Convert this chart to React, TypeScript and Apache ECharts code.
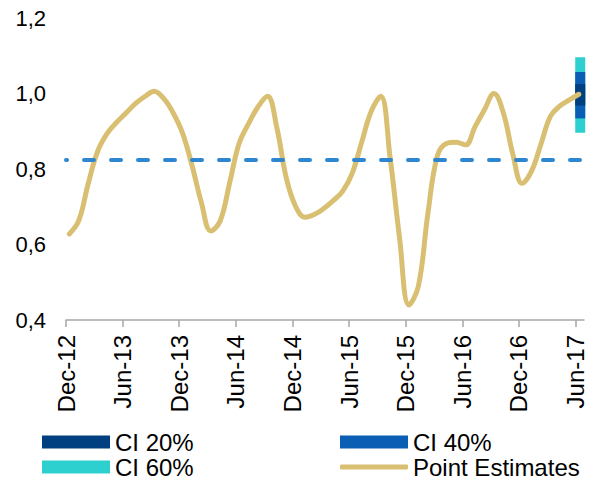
import React, { useEffect, useRef } from "react";
import * as echarts from "echarts";

// Tick labels every 6 months, Dec-12 .. Jun-17
const tickLabels = ["Dec-12", "Jun-13", "Dec-13", "Jun-14", "Dec-14", "Jun-15", "Dec-15", "Jun-16", "Dec-16", "Jun-17"];
const monthsPerTick = 6;

// Monthly point estimates, Dec-12 .. Jun-17
const estimates = [
  0.628, 0.663, 0.761, 0.847, 0.894, 0.923, 0.948, 0.973, 0.992, 1.006,
  0.987, 0.949, 0.895, 0.81, 0.711, 0.636, 0.663, 0.764, 0.868, 0.92,
  0.965, 0.993, 0.909, 0.776, 0.7, 0.672, 0.68, 0.696, 0.717, 0.742,
  0.79, 0.872, 0.953, 0.993, 0.83, 0.618, 0.44, 0.49, 0.681, 0.834,
  0.868, 0.871, 0.864, 0.912, 0.957, 1.0, 0.949, 0.84, 0.762, 0.795,
  0.867, 0.94, 0.967, 0.983, 0.998,
];

// Confidence intervals at the last observation [low, high]
const ci20 = [0.968, 1.025];
const ci40 = [0.934, 1.057];
const ci60 = [0.896, 1.096];

// Horizontal benchmark (dashed)
const benchmark = 0.824;

const yTicks = { min: 0.4, max: 1.2, interval: 0.2 };

const FONT = "'Liberation Sans', Arial, Helvetica, sans-serif";
const GOLD = "#D9BF72";
const C20 = "#004080";
const C40 = "#0A5EB4";
const C60 = "#2ECFCF";
const DASH = "#2E86CE";

const monthOffset = 0.35;
const ciShift = 0.15;
const xMax = 54.9;

export default function App() {
  const ref = useRef<HTMLDivElement>(null);

  useEffect(() => {
    if (!ref.current) return;
    const chart = echarts.init(ref.current, null, { renderer: "svg" });

    const lineData = estimates.map((v, i) => [i + monthOffset, v]);
    const ciX = estimates.length - 1 + monthOffset + ciShift;

    const ciRender = (params: any, api: any) => {
      const x = api.value(0);
      const top = api.coord([x, api.value(2)]);
      const bot = api.coord([x, api.value(1)]);
      return {
        type: "rect",
        shape: { x: top[0] - 5, y: top[1], width: 10, height: bot[1] - top[1] },
        style: { fill: api.visual("color") },
      };
    };

    const tickValues = tickLabels.map((_, i) => i * monthsPerTick);

    const legendBase = {
      padding: 0,
      itemGap: 0,
      textStyle: { fontSize: 24, color: "#000", fontFamily: FONT },
      selectedMode: false,
    };

    chart.setOption({
      animation: false,
      textStyle: { fontFamily: FONT },
      grid: { left: 66, right: 12, top: 18, bottom: 161, containLabel: false, outerBoundsMode: "none" },
      xAxis: {
        type: "value",
        min: 0,
        max: xMax,
        interval: monthsPerTick,
        splitLine: { show: false },
        axisLine: { show: true, lineStyle: { color: "#A6A6A6", width: 1.5 } },
        axisTick: { show: true, length: 7, lineStyle: { color: "#A6A6A6", width: 1.5 }, customValues: tickValues },
        axisLabel: {
          rotate: 90,
          margin: 15,
          fontSize: 24,
          color: "#000",
          fontFamily: FONT,
          customValues: tickValues,
          formatter: (v: number) => {
            const idx = Math.round(v / monthsPerTick);
            return Math.abs(v - idx * monthsPerTick) < 1e-6 ? tickLabels[idx] ?? "" : "";
          },
        },
      },
      yAxis: {
        type: "value",
        min: yTicks.min,
        max: yTicks.max,
        interval: yTicks.interval,
        splitLine: { show: false },
        axisLine: { show: false },
        axisTick: { show: false },
        axisLabel: {
          margin: 20,
          fontSize: 22,
          color: "#000",
          fontFamily: FONT,
          formatter: (v: number) => v.toFixed(1).replace(".", ","),
        },
      },
      legend: [
        { ...legendBase, data: [{ name: "CI 20%", icon: "rect" }], left: 42, top: 430, itemWidth: 68, itemHeight: 13 },
        { ...legendBase, data: [{ name: "CI 40%", icon: "rect" }], left: 340, top: 430, itemWidth: 68, itemHeight: 13 },
        { ...legendBase, data: [{ name: "CI 60%", icon: "rect" }], left: 42, top: 455, itemWidth: 68, itemHeight: 13 },
        { ...legendBase, data: [{ name: "Point Estimates", icon: "roundRect" }], left: 340, top: 455, itemWidth: 68, itemHeight: 5 },
      ],
      series: [
        {
          name: "CI 60%",
          type: "custom",
          renderItem: ciRender,
          itemStyle: { color: C60 },
          data: [[ciX, ci60[0], ci60[1]]],
          encode: { x: 0, y: [1, 2] },
          z: 2,
        },
        {
          name: "CI 40%",
          type: "custom",
          renderItem: ciRender,
          itemStyle: { color: C40 },
          data: [[ciX, ci40[0], ci40[1]]],
          encode: { x: 0, y: [1, 2] },
          z: 2,
        },
        {
          name: "CI 20%",
          type: "custom",
          renderItem: ciRender,
          itemStyle: { color: C20 },
          data: [[ciX, ci20[0], ci20[1]]],
          encode: { x: 0, y: [1, 2] },
          z: 2,
        },
        {
          name: "Point Estimates",
          type: "line",
          data: lineData,
          smooth: 0.4,
          symbol: "none",
          itemStyle: { color: GOLD },
          lineStyle: { color: GOLD, width: 5, cap: "round", join: "round" },
          z: 3,
        },
        {
          name: "Benchmark",
          type: "line",
          data: [[0, benchmark], [xMax, benchmark]],
          symbol: "none",
          lineStyle: { color: DASH, width: 4, type: [10, 17], dashOffset: 9, cap: "round" },
          z: 4,
          silent: true,
        },
      ],
    });

    return () => chart.dispose();
  }, []);

  return (
    <div
      ref={ref}
      style={{ position: "fixed", left: 0, top: 0, width: 596, height: 481, background: "#fff" }}
    />
  );
}
